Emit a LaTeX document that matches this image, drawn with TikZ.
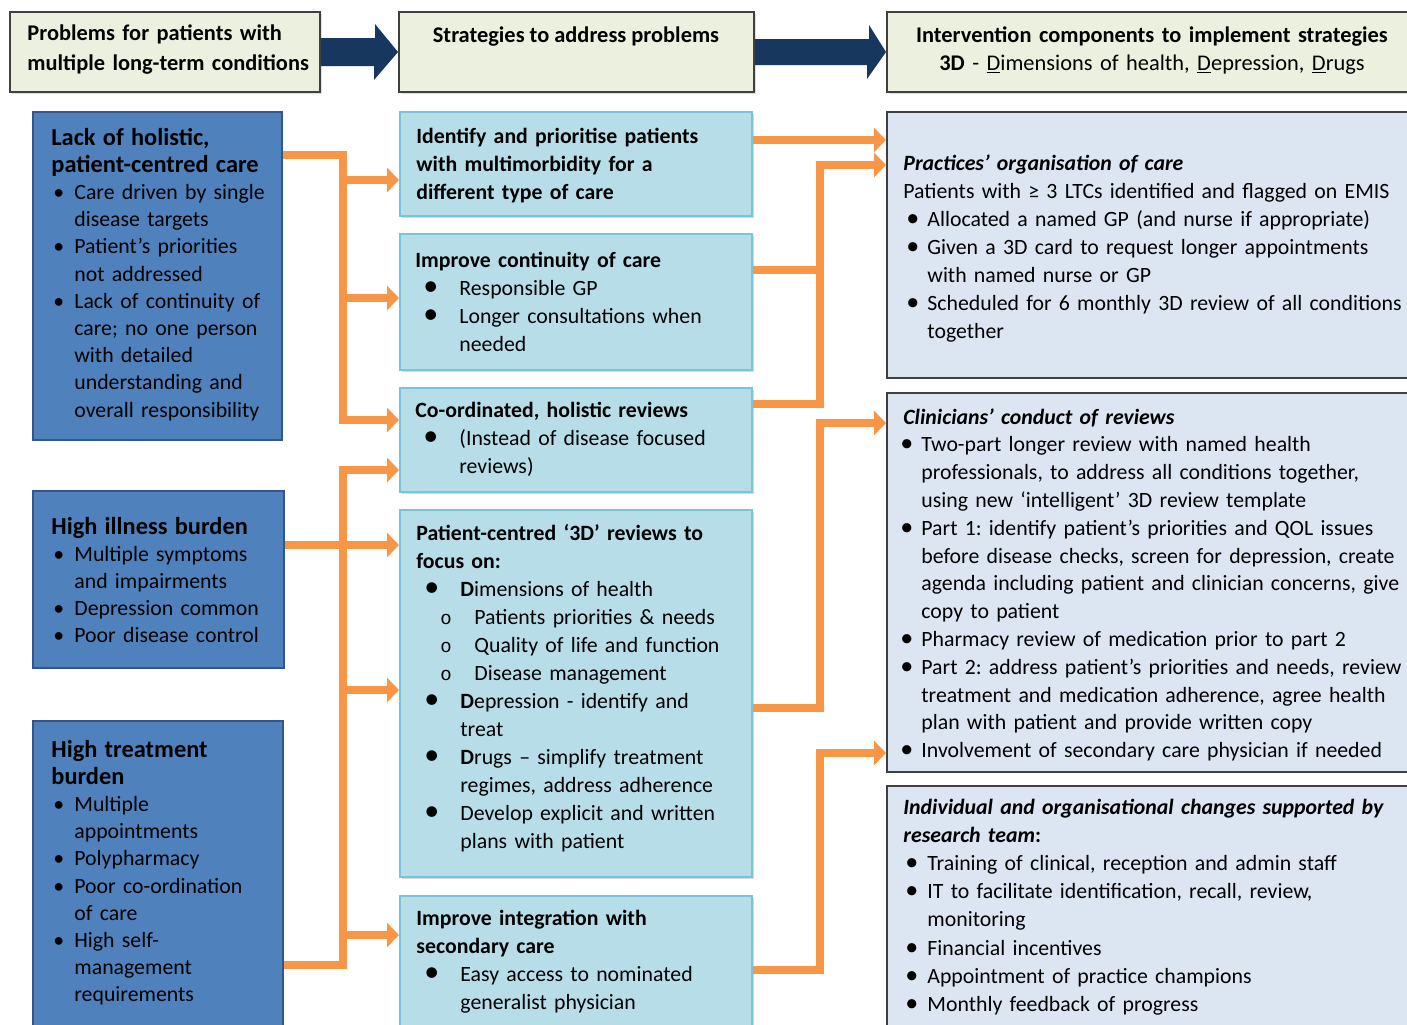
\documentclass[tikz,border=0pt]{standalone}
\usepackage{fontspec}
\setmainfont{Carlito}
\newfontfamily\submono{Liberation Mono}
\usetikzlibrary{arrows.meta,fit,shadows}
\definecolor{headfill}{HTML}{EBF1DE}
\definecolor{headdraw}{HTML}{404040}
\definecolor{probfill}{HTML}{4F81BD}
\definecolor{probdraw}{HTML}{30568C}
\definecolor{stratfill}{HTML}{B7DEE8}
\definecolor{stratdraw}{HTML}{78C4DA}
\definecolor{compfill}{HTML}{DCE6F2}
\definecolor{compdraw}{HTML}{404040}
\definecolor{navyc}{HTML}{17375E}
\definecolor{orangec}{HTML}{F79646}
\frenchspacing
\newcommand{\itm}[3]{\par\noindent\hangindent=#2\hangafter=1\makebox[#2][l]{\hspace*{#1}#3}\ignorespaces}
\newcommand{\bsm}{\textbullet}
\newcommand{\bbig}{{\fontsize{15}{0}\selectfont\textbullet}}
\newcommand{\bmid}{{\fontsize{13}{0}\selectfont\textbullet}}
\newcommand{\bsub}{{\submono\fontsize{9.5}{0}\selectfont o}}
\begin{document}
\begin{tikzpicture}[x=0.5pt,y=-0.5pt,
	headbox/.style={draw=headdraw,fill=headfill,line width=1pt,inner sep=0pt,drop shadow={opacity=0.25,shadow xshift=0.8pt,shadow yshift=-0.8pt}},
	probbox/.style={draw=probdraw,fill=probfill,line width=1pt,inner sep=0pt},
	stratbox/.style={draw=stratdraw,fill=stratfill,line width=1pt,inner sep=0pt,drop shadow={opacity=0.3,shadow xshift=1pt,shadow yshift=-1.2pt}},
	compbox/.style={draw=compdraw,fill=compfill,line width=1pt,inner sep=0pt},
	txt/.style={anchor=base west,inner sep=0pt,text width=#1,align=left,font=\fontsize{10.9}{14}\selectfont},
	ptxt/.style={txt=#1,font=\fontsize{10.9}{13.6}\selectfont},
	flow/.style={draw=orangec,line width=4pt,-{Triangle[length=6pt,width=12pt]}},
	link/.style={draw=orangec,line width=4pt}]
	\useasboundingbox (0,0) rectangle (1407,1024);
	\fill[white] (0,0) rectangle (1407,1024);
	\coordinate (lbus) at (343,0);
	\coordinate (rbus) at (820,0);

	\node[headbox,fit={(10,12) (320,92)}] (h1) {};
	\node[headbox,fit={(399,12) (754,92)}] (h2) {};
	\node[headbox,fit={(887,12) (1420,92)}] (h3) {};
	\node[txt=160pt,font=\fontsize{11.2}{15}\selectfont\bfseries] (h1T) at (27,40) {Problems for patients with\\ multiple long-term conditions};
	\node[anchor=base,inner sep=0pt,font=\fontsize{11.2}{14}\selectfont\bfseries] (h2T) at (576,42) {Strategies to address problems};
	\node[anchor=base,inner sep=0pt,text width=270pt,align=center,font=\fontsize{11.2}{14}\selectfont] (h3T) at (1152,42) {\textbf{Intervention components to implement strategies}\\ \textbf{3D} - \underline{D}imensions of health, \underline{D}epression, \underline{D}rugs};
	\fill[navyc] (h1.east) ++(0,-14) -- ++(54,0) -- ++(0,-14) -- (h2.west) -- ++(-24,28) -- ++(0,-14) -- ([yshift=-7pt]h1.east) -- cycle;
	\fill[navyc] (h2.east) ++(0,-13) -- ++(114,0) -- ++(0,-14) -- (h3.west) -- ++(-19,27) -- ++(0,-14) -- ([yshift=-6.5pt]h2.east) -- cycle;

	\node[probbox,fit={(33,112) (282,440)}] (lack) {};
	\node[probbox,fit={(33,491) (284,668)}] (illness) {};
	\node[probbox,fit={(33,721) (283,1040)}] (treat) {};
	\node[ptxt=150pt] (lackT) at (51,145) {{\fontsize{12.2}{14}\selectfont\bfseries Lack of holistic,\\ patient-centred care}
		\itm{1pt}{11.5pt}{\bsm}Care driven by single\newline disease targets
		\itm{1pt}{11.5pt}{\bsm}Patient’s priorities\newline not addressed
		\itm{1pt}{11.5pt}{\bsm}Lack of continuity of\newline care; no one person\newline with detailed\newline understanding and\newline overall responsibility\par};
	\node[ptxt=150pt] (illnessT) at (51,534) {{\fontsize{12.2}{14}\selectfont\bfseries High illness burden}
		\itm{1pt}{11.5pt}{\bsm}Multiple symptoms\newline and impairments
		\itm{1pt}{11.5pt}{\bsm}Depression common
		\itm{1pt}{11.5pt}{\bsm}Poor disease control\par};
	\node[ptxt=150pt] (treatT) at (51,757) {{\fontsize{12.2}{14}\selectfont\bfseries High treatment\\ burden}
		\itm{1pt}{11.5pt}{\bsm}Multiple\newline appointments
		\itm{1pt}{11.5pt}{\bsm}Polypharmacy
		\itm{1pt}{11.5pt}{\bsm}Poor co-ordination\newline of care
		\itm{1pt}{11.5pt}{\bsm}High self-\newline management\newline requirements\par};

	\node[stratbox,fit={(400,112) (752,216)}] (ident) {};
	\node[stratbox,fit={(400,234) (752,370)}] (contin) {};
	\node[stratbox,fit={(400,388) (752,492)}] (coord) {};
	\node[stratbox,fit={(400,510) (752,877)}] (pcr) {};
	\node[stratbox,fit={(400,896) (752,1040)}] (integ) {};
	\node[txt=200pt,font=\fontsize{10.9}{14}\selectfont\bfseries] (identT) at (416,143) {Identify and prioritise patients\\ with multimorbidity for a\\ different type of care};
	\node[txt=200pt] (continT) at (415,267) {\textbf{Improve continuity of care}
		\itm{4pt}{22pt}{\bbig}Responsible GP
		\itm{4pt}{22pt}{\bbig}Longer consultations when\newline needed\par};
	\node[txt=200pt] (coordT) at (415,417) {\textbf{Co-ordinated, holistic reviews}
		\itm{4pt}{22pt}{\bbig}(Instead of disease focused\newline reviews)\par};
	\node[txt=200pt] (pcrT) at (416,540) {\textbf{Patient-centred ‘3D’ reviews to\\ focus on:}
		\itm{4pt}{22pt}{\bbig}\textbf{D}imensions of health
		\itm{12pt}{29pt}{\bsub}Patients priorities \& needs
		\itm{12pt}{29pt}{\bsub}Quality of life and function
		\itm{12pt}{29pt}{\bsub}Disease management
		\itm{4pt}{22pt}{\bbig}\textbf{D}epression - identify and\newline treat
		\itm{4pt}{22pt}{\bbig}\textbf{D}rugs – simplify treatment\newline regimes, address adherence
		\itm{4pt}{22pt}{\bbig}Develop explicit and written\newline plans with patient\par};
	\node[txt=200pt] (integT) at (416,925) {\textbf{Improve integration with\\ secondary care}
		\itm{4pt}{22pt}{\bbig}Easy access to nominated\newline generalist physician\par};

	\node[compbox,fit={(887,112) (1420,378)}] (pract) {};
	\node[compbox,fit={(887,393) (1420,772)}] (clin) {};
	\node[compbox,fit={(887,786) (1420,1040)}] (indiv) {};
	\node[txt=300pt] (practT) at (903,170) {\textbf{\textit{Practices’ organisation of care}}\par
		Patients with ≥ 3 LTCs identified and flagged on EMIS
		\itm{1.5pt}{12pt}{\bmid}Allocated a named GP (and nurse if appropriate)
		\itm{1.5pt}{12pt}{\bmid}Given a 3D card to request longer appointments\newline with named nurse or GP
		\itm{1.5pt}{12pt}{\bmid}Scheduled for 6 monthly 3D review of all conditions\newline together\par};
	\node[txt=300pt,font=\fontsize{10.9}{13.9}\selectfont] (clinT) at (903,424) {\textbf{\textit{Clinicians’ conduct of reviews}}
		\itm{-1.5pt}{9pt}{\bmid}Two-part longer review with named health\newline professionals, to address all conditions together,\newline using new ‘intelligent’ 3D review template
		\itm{-1.5pt}{9pt}{\bmid}Part 1: identify patient’s priorities and QOL issues\newline before disease checks, screen for depression, create\newline agenda including patient and clinician concerns, give\newline copy to patient
		\itm{-1.5pt}{9pt}{\bmid}Pharmacy review of medication prior to part 2
		\itm{-1.5pt}{9pt}{\bmid}Part 2: address patient’s priorities and needs, review\newline treatment and medication adherence, agree health\newline plan with patient and provide written copy
		\itm{-1.5pt}{9pt}{\bmid}Involvement of secondary care physician if needed\par};
	\node[txt=300pt,font=\fontsize{10.9}{14.1}\selectfont] (indivT) at (903,814) {\textbf{\textit{Individual and organisational changes supported by\\ research team}:}
		\itm{1pt}{12pt}{\bmid}Training of clinical, reception and admin staff
		\itm{1pt}{12pt}{\bmid}IT to facilitate identification, recall, review,\newline monitoring
		\itm{1pt}{12pt}{\bmid}Financial incentives
		\itm{1pt}{12pt}{\bmid}Appointment of practice champions
		\itm{1pt}{12pt}{\bmid}Monthly feedback of progress\par};

	\draw[flow] (lack.east |- 0,155) -| (lbus |- 0,420) -- (coord.west |- 0,420);
	\draw[flow] (lbus |- 0,180) -- (ident.west |- 0,180);
	\draw[flow] (lbus |- 0,298) -- (contin.west |- 0,298);
	\draw[flow] (illness.east |- 0,545) -- (pcr.west |- 0,545);
	\draw[flow] (treat.east |- 0,965) -| (lbus |- 0,470) -- (coord.west |- 0,470);
	\draw[flow] (lbus |- 0,690) -- (pcr.west |- 0,690);
	\draw[flow] (lbus |- 0,935) -- (integ.west |- 0,935);

	\draw[flow] (ident.east |- 0,140) -- (pract.west |- 0,140);
	\draw[flow] (coord.east |- 0,404) -| (rbus |- 0,165) -- (pract.west |- 0,165);
	\draw[link] (contin.east |- 0,270) -- (rbus |- 0,270);
	\draw[flow] (pcr.east |- 0,708) -| (rbus |- 0,423) -- (clin.west |- 0,423);
	\draw[flow] (integ.east |- 0,970) -| (rbus |- 0,753) -- (clin.west |- 0,753);
\end{tikzpicture}
\end{document}
